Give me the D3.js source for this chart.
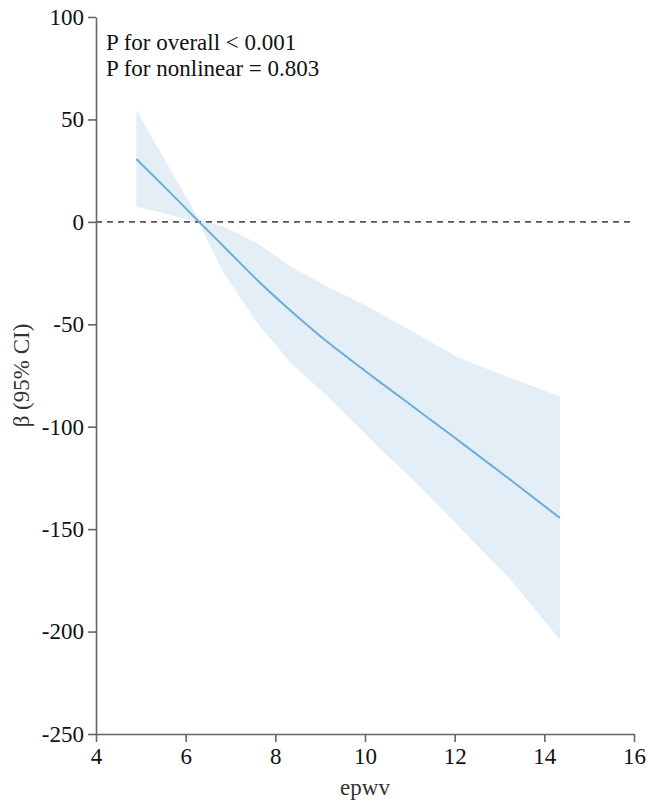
<!DOCTYPE html>
<html>
<head>
<meta charset="utf-8">
<script src="https://cdn.jsdelivr.net/npm/d3@7"></script>
<style>
  body { margin: 0; background: #fff; }
  text { font-family: "Liberation Serif", "DejaVu Serif", serif; }
</style>
</head>
<body>
<script>
// epwv values where the curve was read
const xs    = [4.9, 5.6, 6.3, 6.85, 7.6, 8.35, 9.2, 9.9, 10.35, 11.0, 12.1, 13.25, 14.35]
// beta estimate and 95% CI
const beta  = [30.7, 15.5, 0, -12, -28.5, -43.5, -59.3, -71, -78.5, -89, -107, -126, -144.6]
const upper = [54.6, 27.8, 1, -2.3, -10.5, -21.9, -32, -39.5, -45, -52.8, -66.5, -76.2, -85.3]
const lower = [7.4, 3.8, -0.5, -25, -49.5, -69, -86, -101, -111, -124.4, -148.8, -174.8, -204]

const xTicks = [4, 6, 8, 10, 12, 14, 16]
const yTicks = [100, 50, 0, -50, -100, -150, -200, -250]
const pTexts = ['P for overall < 0.001', 'P for nonlinear = 0.803']

const WIDTH = 648
const HEIGHT = 803
const margin = { top: 17, right: 14, bottom: 69, left: 96 }
const FONT = '23px'

const svg = d3.select('body').append('svg')
  .attr('width', WIDTH).attr('height', HEIGHT)

const x = d3.scaleLinear().domain([4, 16]).range([margin.left, WIDTH - margin.right])
const y = d3.scaleLinear().domain([-250, 100]).range([HEIGHT - margin.bottom, margin.top])

const pts = xs.map((d, i) => ({ x: d, b: beta[i], lo: lower[i], hi: upper[i] }))

// confidence band
svg.append('path')
  .datum(pts)
  .attr('fill', '#e3eef7')
  .attr('d', d3.area().x(d => x(d.x)).y0(d => y(d.lo)).y1(d => y(d.hi)))

// reference line at 0
svg.append('line')
  .attr('x1', x(4)).attr('x2', x(16))
  .attr('y1', y(0)).attr('y2', y(0))
  .attr('stroke', '#555').attr('stroke-width', 1.6)
  .attr('stroke-dasharray', '6,5')

// estimate
svg.append('path')
  .datum(pts)
  .attr('fill', 'none')
  .attr('stroke', '#6aaed6')
  .attr('stroke-width', 2)
  .attr('d', d3.line().x(d => x(d.x)).y(d => y(d.b)).curve(d3.curveMonotoneX))

// axes
const styleAxis = g => {
  g.select('.domain').attr('stroke', '#666').attr('stroke-width', 1.6)
  g.selectAll('.tick line').attr('stroke', '#666').attr('stroke-width', 1.6)
  g.selectAll('.tick text').attr('fill', '#111').style('font-size', FONT)
    .style('font-family', '"Liberation Serif", serif')
}

svg.append('g')
  .attr('transform', `translate(0,${HEIGHT - margin.bottom})`)
  .call(d3.axisBottom(x).tickValues(xTicks).tickSize(8).tickSizeOuter(0).tickPadding(6))
  .call(styleAxis)

svg.append('g')
  .attr('transform', `translate(${margin.left},0)`)
  .call(d3.axisLeft(y).tickValues(yTicks).tickFormat(d => String(d)).tickSize(8).tickSizeOuter(0).tickPadding(4))
  .call(styleAxis)

// axis titles
svg.append('text')
  .attr('x', (x(4) + x(16)) / 2).attr('y', 795)
  .attr('text-anchor', 'middle')
  .attr('fill', '#333').style('font-size', FONT)
  .text('epwv')

svg.append('text')
  .attr('transform', `translate(29,${(y(100) + y(-250)) / 2}) rotate(-90)`)
  .attr('text-anchor', 'middle')
  .attr('fill', '#333').style('font-size', FONT)
  .text('β (95% CI)')

// p values
svg.selectAll('.ptext')
  .data(pTexts)
  .enter()
  .append('text')
  .attr('class', 'ptext')
  .attr('x', 106)
  .attr('y', (d, i) => 50 + i * 26)
  .attr('fill', '#111')
  .style('font-size', FONT)
  .text(d => d)
</script>
</body>
</html>
